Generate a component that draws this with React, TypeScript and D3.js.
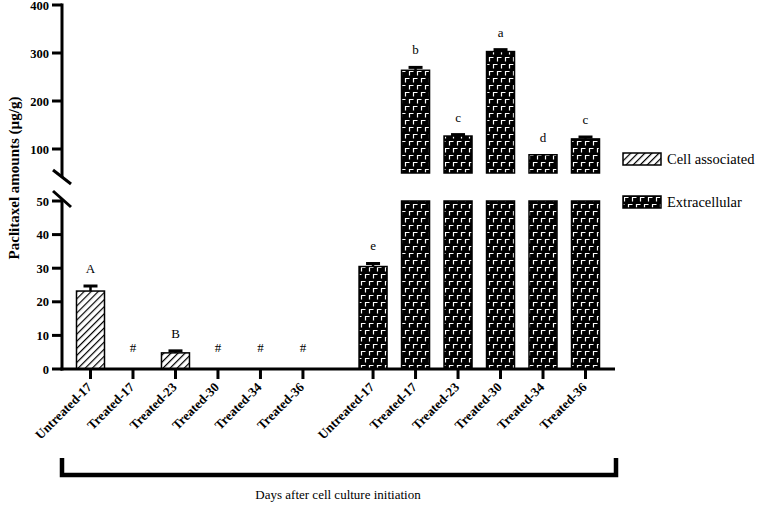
import React from "react";
import * as d3 from "d3";

const categories = ["Untreated-17", "Treated-17", "Treated-23", "Treated-30", "Treated-34", "Treated-36"];
const cellValues: (number | null)[] = [23.2, null, 4.8, null, null, null];
const cellErrors = [1.5, 0, 0.6, 0, 0, 0];
const cellLetters = ["A", "#", "B", "#", "#", "#"];
const extraValues: (number | null)[] = [30.5, 264, 127, 303, 88, 121];
const extraErrors = [0.9, 6, 3, 4, 0, 4];
const extraLetters = ["e", "b", "c", "a", "d", "c"];
const lowerTicks = [0, 10, 20, 30, 40, 50];
const upperTicks = [100, 200, 300, 400];
const seriesNames = ["Cell associated", "Extracellular"];

const W = 759;
const H = 505;
const FONT = "Liberation Serif, DejaVu Serif, serif";
const BREAK = 50;

export default function App() {
  const groupGap = 0.65;
  const xs = d3.scaleLinear().domain([0, 11 + groupGap]).range([90.5, 585.5]);
  const yLow = d3.scaleLinear().domain([0, BREAK]).range([369, 201]);
  const yHigh = d3.scaleLinear().domain([BREAK, 400]).range([173, 5]);
  const yv = (v: number) => (v <= BREAK ? yLow(v) : yHigh(v));
  const barW = 28;
  const axisX = 62;
  const axisY = 369;

  const items: { x: number; v: number | null; e: number; lab: string; pat: string; name: string }[] = [];
  categories.forEach((c, i) => {
    items.push({ x: xs(i), v: cellValues[i], e: cellErrors[i], lab: cellLetters[i], pat: "url(#hatch)", name: c });
  });
  categories.forEach((c, i) => {
    items.push({ x: xs(i + 6 + groupGap), v: extraValues[i], e: extraErrors[i], lab: extraLetters[i], pat: "url(#brick)", name: c });
  });

  return (
    <div style={{ position: "absolute", left: 0, top: 0 }}>
      <svg width={W} height={H} style={{ display: "block", background: "#fff" }}>
        <defs>
          <pattern id="hatch" patternUnits="userSpaceOnUse" width={5} height={5} patternTransform="rotate(45)">
            <rect width={5} height={5} fill="#fff" />
            <line x1={0} y1={0} x2={0} y2={5} stroke="#000" strokeWidth={2.4} />
          </pattern>
          <pattern id="brick" patternUnits="userSpaceOnUse" width={8} height={14}>
            <rect width={8} height={14} fill="#000" />
            <path d="M1.5,5.5 V1.5 H5.5 M5.5,12.5 V8.5 H9.5 M-2.5,8.5 H1.5" stroke="#fff" strokeWidth={1.2} fill="none" />
          </pattern>
        </defs>

        {/* bars */}
        {items.map((d, i) => {
          if (d.v == null) return null;
          const v = d.v;
          const parts: React.ReactNode[] = [];
          if (v <= BREAK) {
            parts.push(
              <rect key="l" x={d.x - barW / 2} y={yLow(v)} width={barW} height={yLow(0) - yLow(v)} fill={d.pat} stroke="#000" strokeWidth={1.5} />
            );
          } else {
            parts.push(
              <rect key="l" x={d.x - barW / 2} y={yLow(BREAK)} width={barW} height={yLow(0) - yLow(BREAK)} fill={d.pat} stroke="#000" strokeWidth={1.5} />
            );
            parts.push(
              <rect key="u" x={d.x - barW / 2} y={yHigh(v)} width={barW} height={yHigh(BREAK) - yHigh(v)} fill={d.pat} stroke="#000" strokeWidth={1.5} />
            );
          }
          const top = yv(v);
          const et = yv(v + d.e);
          if (d.e > 0) {
            parts.push(<line key="ev" x1={d.x} x2={d.x} y1={top} y2={et} stroke="#000" strokeWidth={2.5} />);
            parts.push(<line key="ec" x1={d.x - 7} x2={d.x + 7} y1={et} y2={et} stroke="#000" strokeWidth={3} />);
          }
          return <g key={i}>{parts}</g>;
        })}

        {/* letters */}
        {items.map((d, i) => {
          const yy = d.v == null ? yLow(0) - 17 : yv(d.v + d.e) - 13;
          return (
            <text key={"t" + i} x={d.x} y={yy} textAnchor="middle" fontFamily={FONT} fontSize={13} fill="#000">
              {d.lab}
            </text>
          );
        })}

        {/* y axis */}
        <line x1={axisX} x2={axisX} y1={yHigh(400) - 1.5} y2={177} stroke="#000" strokeWidth={3} />
        <line x1={axisX} x2={axisX} y1={199} y2={axisY + 1.5} stroke="#000" strokeWidth={3} />
        <line x1={axisX - 9} x2={axisX + 9} y1={177 - 7} y2={177 + 7} stroke="#000" strokeWidth={3} />
        <line x1={axisX - 9} x2={axisX + 9} y1={199 - 8} y2={199 + 8} stroke="#000" strokeWidth={3} />
        {lowerTicks.map((t) => (
          <g key={"lt" + t}>
            <line x1={axisX - 10} x2={axisX} y1={yLow(t)} y2={yLow(t)} stroke="#000" strokeWidth={3} />
            <text x={axisX - 13} y={yLow(t) + 4.5} textAnchor="end" fontFamily={FONT} fontWeight="bold" fontSize={12.5}>
              {t}
            </text>
          </g>
        ))}
        {upperTicks.map((t) => (
          <g key={"ut" + t}>
            <line x1={axisX - 10} x2={axisX} y1={yHigh(t)} y2={yHigh(t)} stroke="#000" strokeWidth={3} />
            <text x={axisX - 13} y={yHigh(t) + 4.5} textAnchor="end" fontFamily={FONT} fontWeight="bold" fontSize={12.5}>
              {t}
            </text>
          </g>
        ))}
        <text
          transform={`translate(19,${178}) rotate(-90)`}
          textAnchor="middle"
          fontFamily={FONT}
          fontWeight="bold"
          fontSize={15}
        >
          Paclitaxel amounts (µg/g)
        </text>

        {/* x axis */}
        <line x1={axisX - 1.5} x2={615} y1={axisY} y2={axisY} stroke="#000" strokeWidth={3} />
        {items.map((d, i) => (
          <g key={"xt" + i}>
            <line x1={d.x} x2={d.x} y1={axisY} y2={axisY + 10} stroke="#000" strokeWidth={3} />
            <text
              transform={`translate(${d.x + 2},${axisY + 19}) rotate(-45)`}
              textAnchor="end"
              fontFamily={FONT}
              fontWeight="bold"
              fontSize={13}
            >
              {d.name}
            </text>
          </g>
        ))}

        {/* bracket */}
        <path d={`M${axisX},458 V475 H616 V458`} fill="none" stroke="#000" strokeWidth={4.5} />
        <text x={338} y={499} textAnchor="middle" fontFamily={FONT} fontSize={13}>
          Days after cell culture initiation
        </text>

        {/* legend */}
        {seriesNames.map((n, i) => (
          <g key={"lg" + i} transform={`translate(623,${153 + i * 43})`}>
            <rect x={0} y={0} width={38} height={12} fill={i === 0 ? "url(#hatch)" : "url(#brick)"} stroke="#000" strokeWidth={1.5} />
            <text x={44} y={11} fontFamily={FONT} fontSize={14.5}>
              {n}
            </text>
          </g>
        ))}
      </svg>
    </div>
  );
}
